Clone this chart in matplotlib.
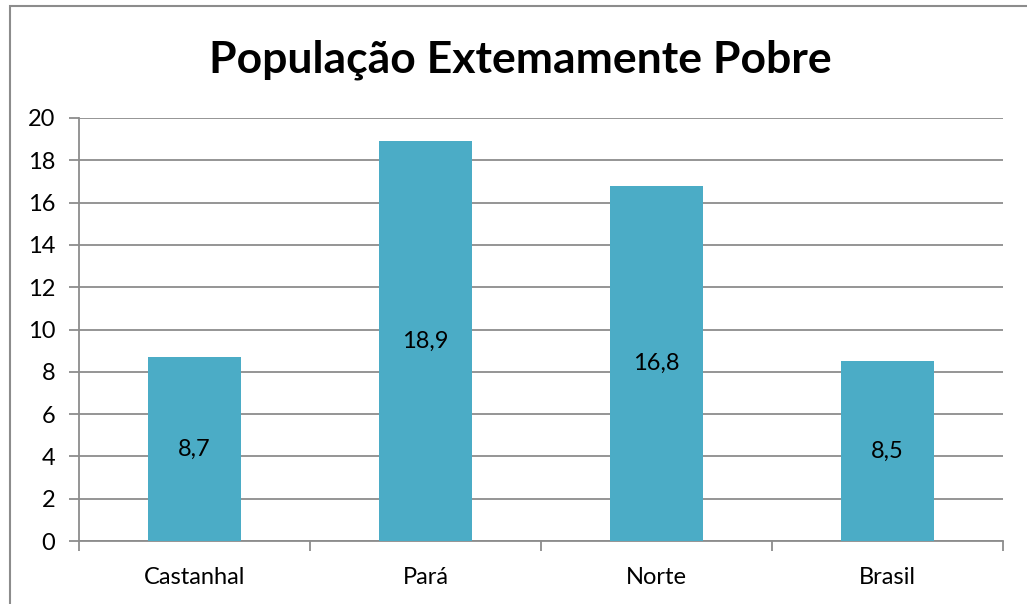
import numpy as np
import matplotlib.pyplot as plt
from matplotlib.patches import Rectangle

# data
regioes = ['Castanhal', 'Pará', 'Norte', 'Brasil']
valores = [8.7, 18.9, 16.8, 8.5]
rotulos = ['8,7', '18,9', '16,8', '8,5']
yticks = [0, 2, 4, 6, 8, 10, 12, 14, 16, 18, 20]

plt.rcParams['font.family'] = ['Lato', 'DejaVu Sans']

W, H = 1027, 604
fig = plt.figure(figsize=(W / 100, H / 100), dpi=100)

# outer chart border (only left/top visible in the crop)
fig.patches.append(Rectangle((10 / W, -0.1), 1.2, (604 - 6) / H + 0.1,
                             transform=fig.transFigure, fill=False,
                             edgecolor='#8c8c8c', linewidth=1.5))

ax = fig.add_axes([79 / W, (H - 541) / H, (1003 - 79) / W, (541 - 118) / H])

x = np.arange(len(regioes))
ax.bar(x, valores, width=0.4, color='#4BACC6', zorder=3)
for xi, v, lab in zip(x, valores, rotulos):
    ax.text(xi, v / 2, lab, ha='center', va='center', fontsize=17, zorder=4)

ax.set_xlim(-0.5, len(regioes) - 0.5)
ax.set_ylim(0, 20)
ax.set_yticks(yticks)
ax.set_yticklabels([str(t) for t in yticks], fontsize=17)
ax.grid(axis='y', color='#8c8c8c', linewidth=1.3, zorder=0)

ax.set_xticks(x)
ax.set_xticklabels(regioes, fontsize=17)
ax.tick_params(axis='x', length=0, pad=19)
ax.set_xticks(np.arange(len(regioes) + 1) - 0.5, minor=True)
ax.tick_params(axis='x', which='minor', length=7, color='#8c8c8c', width=1.3)
ax.tick_params(axis='y', length=7, color='#8c8c8c', width=1.3, pad=10)

for s in ['top', 'right']:
    ax.spines[s].set_visible(False)
for s in ['left', 'bottom']:
    ax.spines[s].set_color('#8c8c8c')
    ax.spines[s].set_linewidth(1.3)

fig.text(520 / W, 1 - 60 / H, 'População Extemamente Pobre', ha='center',
         va='center', fontsize=32, fontweight='bold')

fig.savefig('out.png', dpi=100)
